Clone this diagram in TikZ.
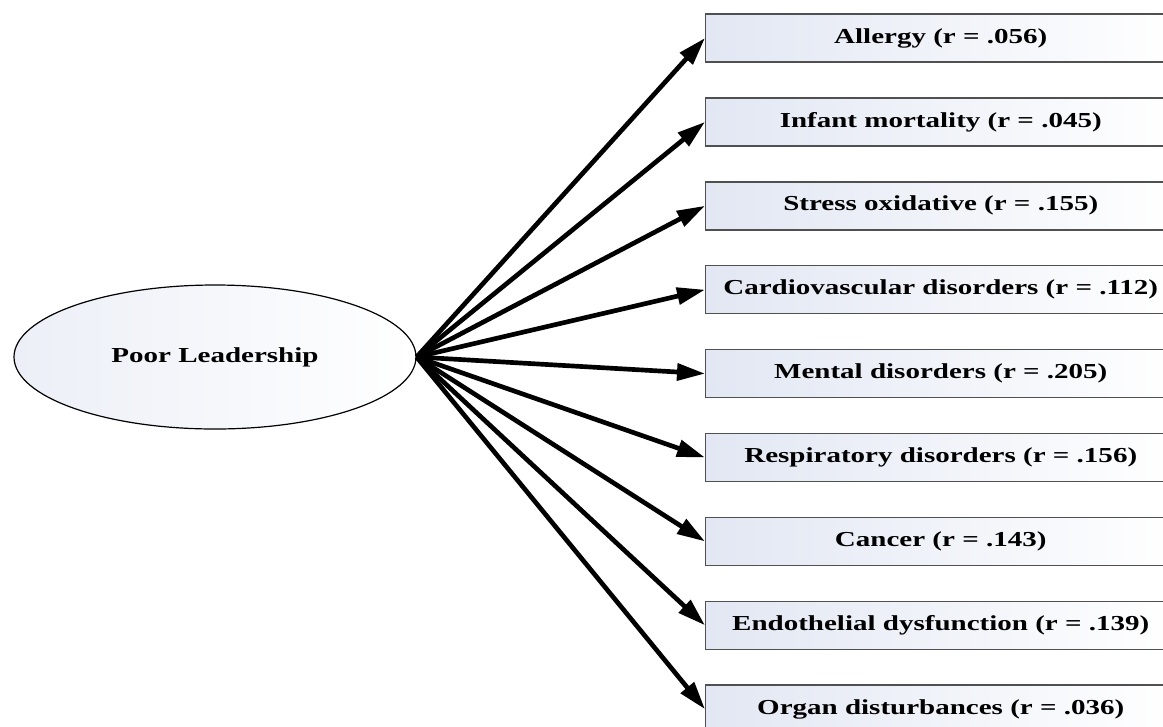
\documentclass[tikz,border=0pt]{standalone}
\usepackage{fontspec}
\setmainfont[FakeStretch=1.36]{Liberation Serif}
\usetikzlibrary{arrows.meta,shapes.geometric}
\definecolor{boxfill}{RGB}{226,231,243}
\definecolor{ellfill}{RGB}{236,239,247}
\definecolor{boxline}{RGB}{80,80,80}
\tikzset{
  outcome/.style={draw=boxline, line width=1.1pt, rectangle, minimum width=352.5pt, minimum height=36pt,
    inner sep=0pt, left color=boxfill, right color=white, anchor=west,
    font=\fontsize{16}{18}\selectfont\bfseries},
  latent/.style={draw=black, line width=0.9pt, ellipse, minimum width=301.5pt, minimum height=108pt,
    inner sep=0pt, left color=ellfill, right color=white,
    font=\fontsize{16}{18}\selectfont\bfseries},
  link/.style={line width=3.5pt, -{Triangle[length=21pt,width=12.5pt]}}
}
\begin{document}
\begin{tikzpicture}[x=0.75pt,y=-0.75pt]
\useasboundingbox (0,0) rectangle (1163,726);
\node[latent] (pl) at (215,357) {Poor Leadership};
\node[outcome] (b1) at (705,38.0) {Allergy (r = .056)};
\node[outcome] (b2) at (705,121.9) {Infant mortality (r = .045)};
\node[outcome] (b3) at (705,205.8) {Stress oxidative (r = .155)};
\node[outcome] (b4) at (705,289.7) {Cardiovascular disorders (r = .112)};
\node[outcome] (b5) at (705,373.6) {Mental disorders (r = .205)};
\node[outcome] (b6) at (705,457.5) {Respiratory disorders (r = .156)};
\node[outcome] (b7) at (705,541.4) {Cancer (r = .143)};
\node[outcome] (b8) at (705,625.3) {Endothelial dysfunction (r = .139)};
\node[outcome] (b9) at (705,709.2) {Organ disturbances (r = .036)};
\foreach \b in {b1,b2,b3,b4,b5,b6,b7,b8,b9}
  \draw[link] (pl.east) -- (\b.west);
\end{tikzpicture}
\end{document}
